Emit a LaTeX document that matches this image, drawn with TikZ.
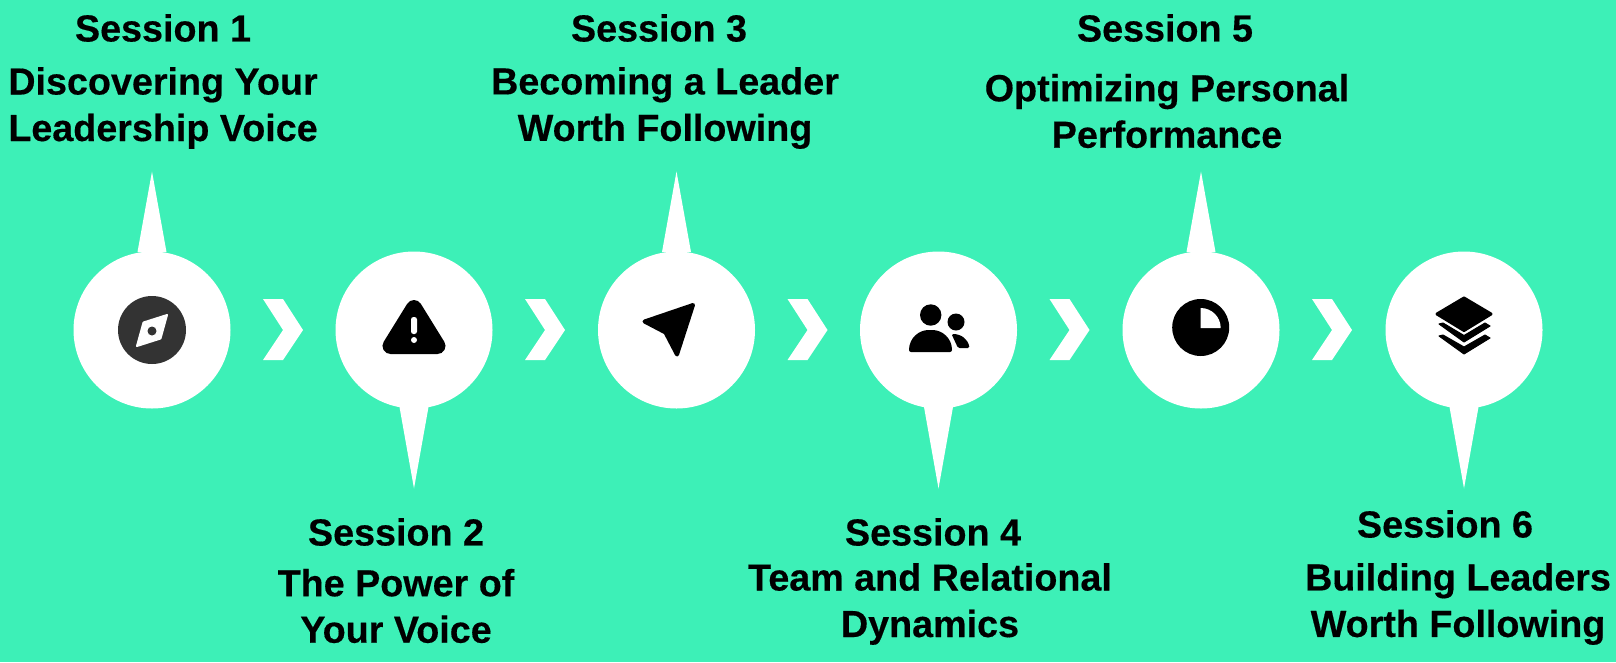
\documentclass[tikz,border=0pt]{standalone}
\usepackage{fontspec}
\setmainfont[BoldFeatures={FakeBold=0.4}]{Liberation Sans}
\definecolor{mint}{HTML}{3DF0B7}
\definecolor{compassgrey}{HTML}{333333}
\tikzset{
  x=1pt,y=-1pt,
  disc/.style={circle,fill=white,draw=none,minimum size=157pt,inner sep=0pt},
  spike/.style={fill=white,draw=none},
  chev/.style={fill=white,draw=none},
  glyph/.style={fill=black,draw=black,line width=3pt,line join=round},
  hole/.style={fill=white,draw=none},
  sess/.style={font=\fontsize{37.7}{44}\selectfont\bfseries,inner sep=0pt,anchor=center},
  ttl/.style={font=\fontsize{37.7}{46.5}\selectfont\bfseries,inner sep=0pt,align=center,anchor=center},
}
\begin{document}
\begin{tikzpicture}
\useasboundingbox (0,0) rectangle (1616,662);
\fill[mint] (0,0) rectangle (1616,662);
% discs
\foreach \n/\cx in {1/152,2/414,3/676.5,4/938.5,5/1201,6/1464}{
  \node[disc] (c\n) at (\cx,330) {};
}
% spikes
\foreach \n in {1,3,5}{
  \fill[spike] ([shift={(-14.5,-78)}]c\n.center) -- ([shift={(0,-158.5)}]c\n.center) -- ([shift={(14.5,-78)}]c\n.center) -- cycle;
}
\foreach \n in {2,4,6}{
  \fill[spike] ([shift={(-14.5,77)}]c\n.center) -- ([shift={(0,158.5)}]c\n.center) -- ([shift={(14.5,77)}]c\n.center) -- cycle;
}
% chevrons
\foreach \n in {1,...,5}{
  \fill[chev] ([shift={(111,-31)}]c\n.center) -- ([shift={(131,-31)}]c\n.center) -- ([shift={(151,0)}]c\n.center)
     -- ([shift={(131,30)}]c\n.center) -- ([shift={(111,30)}]c\n.center) -- ([shift={(131,0)}]c\n.center) -- cycle;
}
% compass icon
\fill[compassgrey] (c1.center) circle (34);
\fill[hole,draw=white,line width=2pt,line join=round] (167,315) -- (143.5,322.5) -- (137,346) -- (160.5,338.5) -- cycle;
\fill[compassgrey] (152,331) circle (4.5);
% warning icon
\draw[glyph,line width=16pt] (414,308) -- (390.5,346) -- (437.5,346) -- cycle;
\fill[hole,rounded corners=2.5pt] (411,317) rectangle (417,334);
\fill[hole] (414,340) circle (3);
% navigation arrow icon
\fill[glyph,line width=4pt] (693,305) -- (644.5,321.5) -- (665.5,332.5) -- (677,354.5) -- cycle;
% people icon
\fill[black] (930.7,315) circle (10.7);
\fill[black] (956,322) circle (8.5);
\fill[black,rounded corners=2pt] (909,352) .. controls (909,338) and (919,330) .. (930.5,330) .. controls (942,330) and (952,338) .. (952,352) -- cycle;
\fill[black,rounded corners=1.5pt] (951.5,334) .. controls (961,334) and (968,339) .. (969.5,348) -- (958,348) -- cycle;
% pie icon
\fill[black] (1200.7,327.5) circle (28.5);
\fill[hole] (1200.7,328) -- (1200.7,308) arc[start angle=-90,end angle=0,radius=20] -- cycle;
% layers icon
\draw[glyph,line width=3pt] (1464,298) -- (1491,314) -- (1464,330.5) -- (1437,314) -- cycle;
\fill[black,line join=round,draw=black,line width=1pt] (1439,324) -- (1443,323) -- (1464,335.5) -- (1485,323) -- (1490,326) -- (1464,342) -- cycle;
\fill[black,line join=round,draw=black,line width=1pt] (1439,336) -- (1443,335) -- (1464,347) -- (1485,335) -- (1490,338) -- (1464,354) -- cycle;
% texts
\node[sess] (s1) at (163,28) {Session 1};
\node[ttl] (t1) at (163,108) {Discovering Your\\Leadership Voice};
\node[sess] (s3) at (659,28) {Session 3};
\node[ttl] (t3) at (665,108) {Becoming a Leader\\Worth Following};
\node[sess] (s5) at (1165,28) {Session 5};
\node[ttl] (t5) at (1167,111) {Optimizing Personal\\Performance};
\node[sess] (s2) at (396,532) {Session 2};
\node[ttl] (t2) at (396,606) {The Power of\\Your Voice};
\node[sess] (s4) at (933,532) {Session 4};
\node[ttl] (t4) at (930,604) {Team and Relational\\Dynamics};
\node[sess] (s6) at (1445,524) {Session 6};
\node[ttl] (t6) at (1458,604) {Building Leaders\\Worth Following};
\end{tikzpicture}
\end{document}
